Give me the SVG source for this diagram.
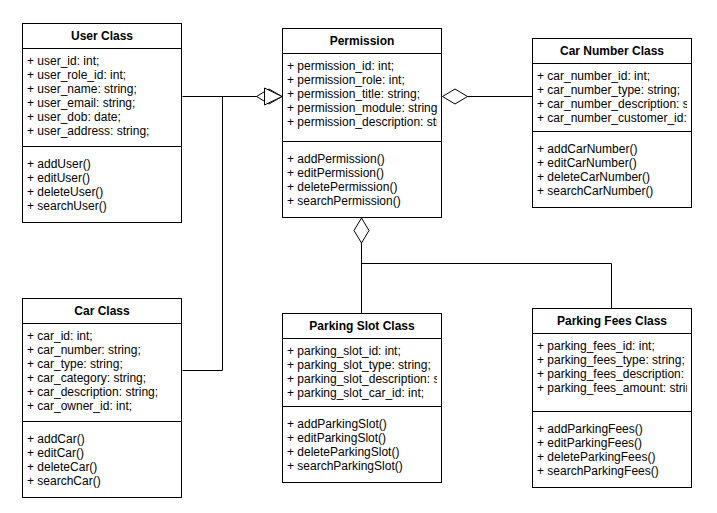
<svg xmlns="http://www.w3.org/2000/svg" width="717" height="513" viewBox="0 0 717 513">
<style>
.box{fill:#fff;stroke:#000;stroke-width:1}
.ln{stroke:#000;stroke-width:1;fill:none}
.t{font-family:"Liberation Sans",Arial,Helvetica,sans-serif;font-size:12px;fill:#000}
.h{font-family:"Liberation Sans",Arial,Helvetica,sans-serif;font-size:12px;font-weight:bold;fill:#000;text-anchor:middle}
.dec{fill:#fff;stroke:#000;stroke-width:1}
</style>
<defs>
<clipPath id="c1"><rect x="22" y="0" width="155" height="513"/></clipPath>
<clipPath id="c2"><rect x="282" y="0" width="155" height="513"/></clipPath>
<clipPath id="c3"><rect x="532" y="0" width="155" height="513"/></clipPath>
</defs>
<rect width="717" height="513" fill="#fff"/>
<g id="connectors">
<path class="ln" d="M182.5,96.5 H264"/>
<path class="ln" d="M182.5,370.5 H222.5 V96.5 H258"/>
<polygon class="dec" points="256.5,96.5 269,89 282,96.5 269,104"/>
<polygon class="dec" points="264.5,88 282,96.5 264.5,105"/>
<path class="ln" d="M467,96.5 H532"/>
<polygon class="dec" points="442.5,96.5 455,89 467.5,96.5 455,104"/>
<path class="ln" d="M361.5,243 V313 M361.5,263.5 H611.5 V308"/>
<polygon class="dec" points="361.5,218 369,230.5 361.5,243 354,230.5"/>
</g>
<g id="user">
<rect class="box" x="22.5" y="23.5" width="159" height="199"/>
<path class="ln" d="M22.5,48.5 H181.5 M22.5,146.5 H181.5"/>
<text class="h" x="102" y="40">User Class</text>
<g clip-path="url(#c1)">
<text class="t" x="27" y="65">+ user_id: int;</text>
<text class="t" x="27" y="79">+ user_role_id: int;</text>
<text class="t" x="27" y="93">+ user_name: string;</text>
<text class="t" x="27" y="107">+ user_email: string;</text>
<text class="t" x="27" y="121">+ user_dob: date;</text>
<text class="t" x="27" y="135">+ user_address: string;</text>
<text class="t" x="27" y="168">+ addUser()</text>
<text class="t" x="27" y="182">+ editUser()</text>
<text class="t" x="27" y="196">+ deleteUser()</text>
<text class="t" x="27" y="210">+ searchUser()</text>
</g>
</g>
<g id="permission">
<rect class="box" x="282.5" y="28.5" width="159" height="189"/>
<path class="ln" d="M282.5,53.5 H441.5 M282.5,141.5 H441.5"/>
<text class="h" x="362" y="45">Permission</text>
<g clip-path="url(#c2)">
<text class="t" x="287" y="70">+ permission_id: int;</text>
<text class="t" x="287" y="84">+ permission_role: int;</text>
<text class="t" x="287" y="98">+ permission_title: string;</text>
<text class="t" x="287" y="112">+ permission_module: string</text>
<text class="t" x="287" y="126">+ permission_description: string;</text>
<text class="t" x="287" y="163">+ addPermission()</text>
<text class="t" x="287" y="177">+ editPermission()</text>
<text class="t" x="287" y="191">+ deletePermission()</text>
<text class="t" x="287" y="205">+ searchPermission()</text>
</g>
</g>
<g id="carnumber">
<rect class="box" x="532.5" y="38.5" width="159" height="169"/>
<path class="ln" d="M532.5,63.5 H691.5 M532.5,131.5 H691.5"/>
<text class="h" x="612" y="55">Car Number Class</text>
<g clip-path="url(#c3)">
<text class="t" x="537" y="80">+ car_number_id: int;</text>
<text class="t" x="537" y="94">+ car_number_type: string;</text>
<text class="t" x="537" y="108">+ car_number_description: string;</text>
<text class="t" x="537" y="122">+ car_number_customer_id: int;</text>
<text class="t" x="537" y="153">+ addCarNumber()</text>
<text class="t" x="537" y="167">+ editCarNumber()</text>
<text class="t" x="537" y="181">+ deleteCarNumber()</text>
<text class="t" x="537" y="195">+ searchCarNumber()</text>
</g>
</g>
<g id="car">
<rect class="box" x="22.5" y="298.5" width="159" height="199"/>
<path class="ln" d="M22.5,323.5 H181.5 M22.5,421.5 H181.5"/>
<text class="h" x="102" y="315">Car Class</text>
<g clip-path="url(#c1)">
<text class="t" x="27" y="340">+ car_id: int;</text>
<text class="t" x="27" y="354">+ car_number: string;</text>
<text class="t" x="27" y="368">+ car_type: string;</text>
<text class="t" x="27" y="382">+ car_category: string;</text>
<text class="t" x="27" y="396">+ car_description: string;</text>
<text class="t" x="27" y="410">+ car_owner_id: int;</text>
<text class="t" x="27" y="443">+ addCar()</text>
<text class="t" x="27" y="457">+ editCar()</text>
<text class="t" x="27" y="471">+ deleteCar()</text>
<text class="t" x="27" y="485">+ searchCar()</text>
</g>
</g>
<g id="parkingslot">
<rect class="box" x="282.5" y="313.5" width="159" height="169"/>
<path class="ln" d="M282.5,338.5 H441.5 M282.5,406.5 H441.5"/>
<text class="h" x="362" y="330">Parking Slot Class</text>
<g clip-path="url(#c2)">
<text class="t" x="287" y="355">+ parking_slot_id: int;</text>
<text class="t" x="287" y="369">+ parking_slot_type: string;</text>
<text class="t" x="287" y="383">+ parking_slot_description: string;</text>
<text class="t" x="287" y="397">+ parking_slot_car_id: int;</text>
<text class="t" x="287" y="428">+ addParkingSlot()</text>
<text class="t" x="287" y="442">+ editParkingSlot()</text>
<text class="t" x="287" y="456">+ deleteParkingSlot()</text>
<text class="t" x="287" y="470">+ searchParkingSlot()</text>
</g>
</g>
<g id="parkingfees">
<rect class="box" x="532.5" y="308.5" width="159" height="179"/>
<path class="ln" d="M532.5,333.5 H691.5 M532.5,411.5 H691.5"/>
<text class="h" x="612" y="325">Parking Fees Class</text>
<g clip-path="url(#c3)">
<text class="t" x="537" y="350">+ parking_fees_id: int;</text>
<text class="t" x="537" y="364">+ parking_fees_type: string;</text>
<text class="t" x="537" y="378">+ parking_fees_description: string;</text>
<text class="t" x="537" y="392">+ parking_fees_amount: string;</text>
<text class="t" x="537" y="433">+ addParkingFees()</text>
<text class="t" x="537" y="447">+ editParkingFees()</text>
<text class="t" x="537" y="461">+ deleteParkingFees()</text>
<text class="t" x="537" y="475">+ searchParkingFees()</text>
</g>
</g>
</svg>
